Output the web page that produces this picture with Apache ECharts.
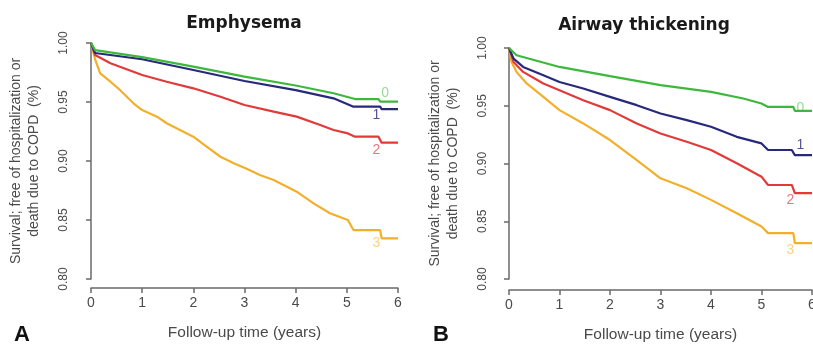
<!DOCTYPE html>
<html>
<head>
<meta charset="utf-8">
<script src="https://cdn.jsdelivr.net/npm/echarts@6/dist/echarts.min.js"></script>
<style>
html,body{margin:0;padding:0;background:#fff;}
#chart{width:813px;height:345px;}
</style>
</head>
<body>
<div id="chart"></div>
<script>
// ---------- Data ----------
const panelTitles = ['Emphysema', 'Airway thickening'];
const panelLetters = ['A', 'B'];
const groupNames = ['0', '1', '2', '3'];
const xTicks = [0, 1, 2, 3, 4, 5, 6];
const yTicks = [0.80, 0.85, 0.90, 0.95, 1.00];

// Panel A (Emphysema) survival curves [time, survival]
const emph0 = [[0,1.0],[0.08,0.994],[1,0.988],[2,0.980],[3,0.9715],[4,0.964],[4.74,0.9574],[5.16,0.9525],[5.62,0.9525],[5.65,0.9504],[6,0.9504]];
const emph1 = [[0,1.0],[0.08,0.9915],[1,0.9862],[2,0.9771],[3,0.9678],[4,0.960],[4.74,0.9531],[5.13,0.946],[5.65,0.946],[5.68,0.944],[6,0.944]];
const emph2 = [[0,1.0],[0.08,0.9898],[0.38,0.9828],[1,0.9729],[1.48,0.9672],[2,0.9616],[2.53,0.9545],[3,0.9475],[3.57,0.9418],[4.02,0.9376],[4.48,0.9305],[4.74,0.9263],[5.02,0.9234],[5.16,0.9206],[5.62,0.9206],[5.68,0.9155],[6,0.9155]];
const emph3 = [[0,1.0],[0.084,0.9856],[0.18,0.9743],[0.38,0.9672],[0.57,0.960],[0.83,0.9489],[1,0.9432],[1.29,0.9376],[1.48,0.932],[1.74,0.9263],[2,0.9206],[2.26,0.9121],[2.53,0.9036],[2.79,0.898],[3.02,0.8938],[3.3,0.8881],[3.57,0.8839],[3.83,0.8782],[4.02,0.874],[4.35,0.8641],[4.67,0.8557],[5.02,0.850],[5.13,0.8415],[5.65,0.8415],[5.68,0.8345],[6,0.8345]];

// Panel B (Airway thickening)
const air0 = [[0,1.0],[0.15,0.9937],[1,0.9836],[2,0.9756],[3,0.9678],[4,0.962],[4.64,0.9563],[5,0.9519],[5.13,0.949],[5.63,0.949],[5.66,0.9456],[6,0.9456]];
const air1 = [[0,1.0],[0.09,0.9908],[0.28,0.9836],[0.68,0.9764],[1,0.9706],[1.47,0.9649],[2,0.9577],[2.53,0.9505],[3,0.9433],[3.52,0.9376],[4,0.9318],[4.51,0.9231],[5,0.9174],[5.13,0.9117],[5.6,0.9117],[5.66,0.9073],[6,0.9073]];
const air2 = [[0,1.0],[0.09,0.9879],[0.28,0.9793],[0.68,0.9693],[1,0.9635],[1.47,0.9548],[2,0.9462],[2.53,0.9347],[3,0.926],[3.52,0.9188],[4,0.9117],[4.51,0.9002],[5,0.8886],[5.13,0.8814],[5.6,0.8814],[5.66,0.8743],[6,0.8743]];
const air3 = [[0,1.0],[0.05,0.9879],[0.15,0.9793],[0.35,0.9693],[0.68,0.9577],[1,0.9462],[1.47,0.9347],[2,0.9203],[2.53,0.903],[3,0.8872],[3.52,0.8786],[4,0.8685],[4.51,0.857],[5,0.8454],[5.13,0.8397],[5.63,0.8397],[5.66,0.8311],[6,0.8311]];

// Curve-end labels [time, survival, text]
const labelsA = [[5.75,0.9576,'0'],[5.58,0.939,'1'],[5.58,0.9093,'2'],[5.58,0.8305,'3']];
const labelsB = [[5.77,0.9477,'0'],[5.77,0.916,'1'],[5.57,0.8685,'2'],[5.57,0.8253,'3']];

const yAxisName = 'Survival; free of hospitalization or\ndeath due to COPD  (%)';
const xAxisName = 'Follow-up time (years)';

// ---------- Styles ----------
const colors = ['#3db83d', '#27297a', '#e23a3a', '#f2b02a'];
const labelColors = ['#7fd07f', '#27297a', '#e0555a', '#f5c860'];
const axisColor = '#6a6a6a';
const textColor = '#4a4a4a';
const font = '"Liberation Sans", Arial, sans-serif';

const grids = [
  {left: 91, top: 43, width: 307, height: 236, outerBoundsMode: 'none', containLabel: false},
  {left: 509, top: 48, width: 303, height: 231, outerBoundsMode: 'none', containLabel: false}
];
const yOffsets = [13, 12];
const xOffsets = [9, 11];

function xAxisCfg(i) {
  return {
    type: 'value', gridIndex: i, min: xTicks[0], max: xTicks[xTicks.length-1], interval: 1,
    offset: xOffsets[i],
    name: xAxisName, nameLocation: 'middle', nameGap: 37,
    nameTextStyle: {fontFamily: font, fontSize: 15.5, color: textColor},
    axisLine: {show: true, lineStyle: {color: axisColor, width: 1.5}},
    axisTick: {show: true, length: 5, lineStyle: {color: axisColor, width: 1.5}},
    axisLabel: {fontFamily: font, fontSize: 14, color: textColor, margin: 8, showMaxLabel: true},
    splitLine: {show: false}
  };
}
function yAxisCfg(i) {
  return {
    type: 'value', gridIndex: i, min: yTicks[0], max: yTicks[yTicks.length-1], interval: 0.05,
    offset: yOffsets[i],
    name: yAxisName, nameLocation: 'middle', nameGap: 35,
    nameTextStyle: {fontFamily: font, fontSize: 14, color: textColor, lineHeight: 18},
    axisLine: {show: true, lineStyle: {color: axisColor, width: 1.5}},
    axisTick: {show: true, length: 5, lineStyle: {color: axisColor, width: 1.5}},
    axisLabel: {fontFamily: font, fontSize: 12, color: textColor, margin: 8, rotate: 90,
      formatter: v => v.toFixed(2)},
    splitLine: {show: false}
  };
}

const curvesA = [emph0, emph1, emph2, emph3];
const curvesB = [air0, air1, air2, air3];
const series = [];
[curvesA, curvesB].forEach((curves, p) => {
  curves.forEach((d, k) => {
    series.push({
      type: 'line', xAxisIndex: p, yAxisIndex: p, data: d, showSymbol: false, symbol: 'none',
      lineStyle: {color: colors[k], width: 2.2}, z: 10 - k, silent: true, animation: false
    });
  });
});
[labelsA, labelsB].forEach((labs, p) => {
  series.push({
    type: 'scatter', xAxisIndex: p, yAxisIndex: p, symbolSize: 0, animation: false, silent: true,
    data: labs.map((l, k) => ({value: l, label: {color: labelColors[k]}})),
    label: {show: true, position: 'inside', fontFamily: font, fontSize: 14,
      formatter: prm => prm.data.value[2]}
  });
});

const option = {
  backgroundColor: '#fff',
  animation: false,
  grid: grids,
  xAxis: [xAxisCfg(0), xAxisCfg(1)],
  yAxis: [yAxisCfg(0), yAxisCfg(1)],
  series: series,
  graphic: [
    {type: 'text', x: 244, y: 24, style: {text: panelTitles[0], font: 'bold 17px "DejaVu Sans", Verdana, sans-serif', fill: '#1a1a1a', align: 'center', verticalAlign: 'middle'}},
    {type: 'text', x: 644, y: 26, style: {text: panelTitles[1], font: 'bold 17px "DejaVu Sans", Verdana, sans-serif', fill: '#1a1a1a', align: 'center', verticalAlign: 'middle'}},
    {type: 'text', x: 22, y: 335, style: {text: panelLetters[0], font: 'bold 22px "Liberation Sans", Arial, sans-serif', fill: '#111', align: 'center', verticalAlign: 'middle'}},
    {type: 'text', x: 441, y: 335, style: {text: panelLetters[1], font: 'bold 22px "Liberation Sans", Arial, sans-serif', fill: '#111', align: 'center', verticalAlign: 'middle'}}
  ]
};

const chart = echarts.init(document.getElementById('chart'), null, {renderer: 'canvas'});
chart.setOption(option);
</script>
</body>
</html>
